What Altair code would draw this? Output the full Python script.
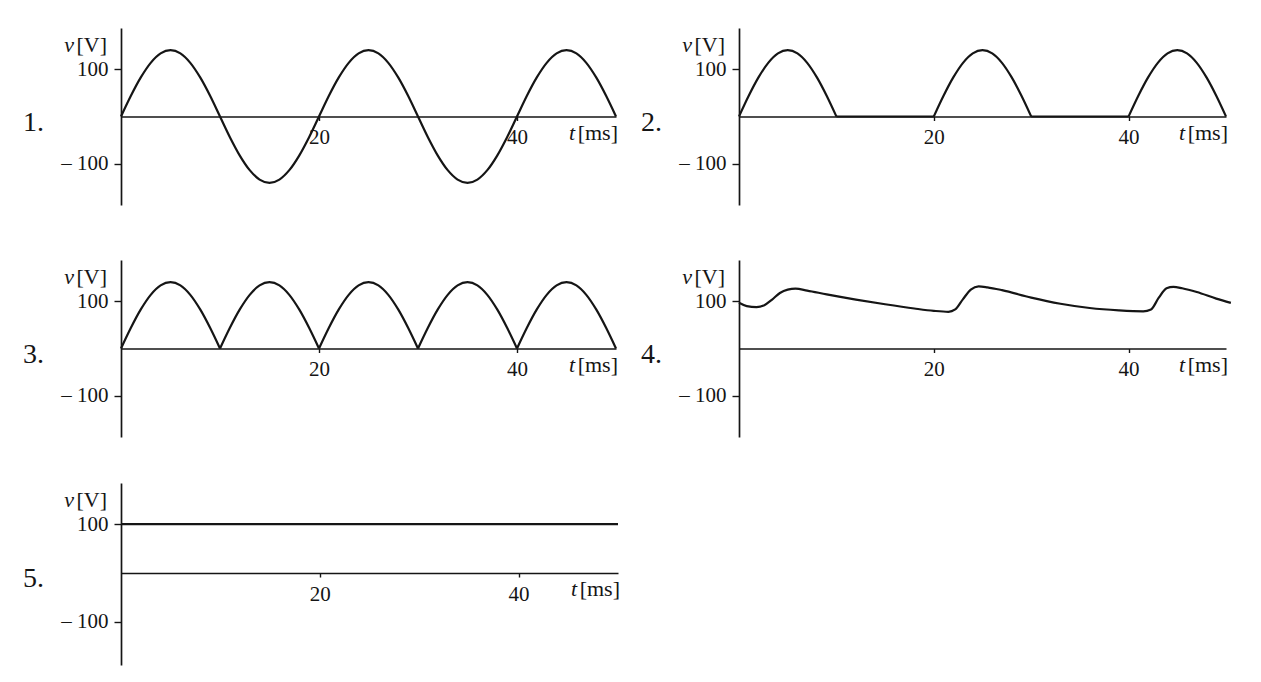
import altair as alt
import pandas as pd

# ---------------- data ----------------
t_ms = [0, 1, 2, 3, 4, 5, 6, 7, 8, 9, 10, 11, 12, 13, 14, 15, 16, 17, 18, 19, 20,
        21, 22, 23, 24, 25, 26, 27, 28, 29, 30, 31, 32, 33, 34, 35, 36, 37, 38, 39, 40,
        41, 42, 43, 44, 45, 46, 47, 48, 49, 50]

# 1. AC source voltage
v_sine = [0, 44, 83, 114, 134, 141, 134, 114, 83, 44, 0, -44, -83, -114, -134, -141, -134, -114, -83, -44, 0,
          44, 83, 114, 134, 141, 134, 114, 83, 44, 0, -44, -83, -114, -134, -141, -134, -114, -83, -44, 0,
          44, 83, 114, 134, 141, 134, 114, 83, 44, 0]
# 2. half-wave rectified
v_half = [0, 44, 83, 114, 134, 141, 134, 114, 83, 44, 0, 0, 0, 0, 0, 0, 0, 0, 0, 0, 0,
          44, 83, 114, 134, 141, 134, 114, 83, 44, 0, 0, 0, 0, 0, 0, 0, 0, 0, 0, 0,
          44, 83, 114, 134, 141, 134, 114, 83, 44, 0]
# 3. full-wave rectified
v_full = [0, 44, 83, 114, 134, 141, 134, 114, 83, 44, 0, 44, 83, 114, 134, 141, 134, 114, 83, 44, 0,
          44, 83, 114, 134, 141, 134, 114, 83, 44, 0, 44, 83, 114, 134, 141, 134, 114, 83, 44, 0,
          44, 83, 114, 134, 141, 134, 114, 83, 44, 0]
# 4. rectified with smoothing (ripple)
t_ripple = [0, 0.8, 1.8, 2.6, 3.4, 4.2, 5.0, 5.8, 7.0, 9.0, 12.0, 15.0, 18.0, 20.0, 21.5,
            22.2, 23.0, 23.8, 24.6, 25.5, 27.0, 30.0, 33.0, 36.0, 39.0, 41.5,
            42.3, 43.1, 43.9, 44.6, 45.5, 47.0, 49.0, 50.5]
v_ripple = [97, 90, 88, 92, 104, 118, 125, 127, 123, 115, 104, 94, 85, 80, 78,
            83, 105, 125, 132, 130, 124, 108, 95, 86, 81, 79,
            83, 108, 128, 131, 128, 120, 106, 97]
# 5. DC
t_dc = [0, 50]
v_dc = [100, 100]

y_ticks = [-100, 100]
x_ticks = [20, 40]
panel_labels = ["1.", "2.", "3.", "4.", "5."]

# ---------------- style ----------------
SERIF = "Liberation Serif"
INK = "#151515"
LEFT_W, RIGHT_W = 495, 487
H, H5 = 177, 182
DOM, DOM5 = [-188, 188], [-188, 184]
LBL, TTL = 21, 22


def segmented(t, v, cuts):
    rows = []
    for k, (a, b) in enumerate(cuts):
        for i in range(a, b + 1):
            rows.append({"t": t[i], "v": v[i], "seg": k})
    return pd.DataFrame(rows)


one = pd.DataFrame({"k": [0]})


def panel(df, label, width, height, ydom):
    zero_from_bottom = height * (0 - ydom[0]) / (ydom[1] - ydom[0])
    x = alt.X("t:Q", scale=alt.Scale(domain=[0, 50], nice=False, zero=False),
              axis=alt.Axis(values=x_ticks, title=None, offset=-zero_from_bottom,
                            tickSize=4, labelPadding=6, labelFont=SERIF, labelFontSize=LBL,
                            labelColor=INK, domainColor=INK, tickColor=INK,
                            domainWidth=1.7, tickWidth=1.4, grid=False, labelFlush=False,
                            format="d"))
    y = alt.Y("v:Q", scale=alt.Scale(domain=ydom, nice=False),
              axis=alt.Axis(values=y_ticks, title=None, tickSize=7, labelPadding=6,
                            labelFont=SERIF, labelFontSize=LBL, labelColor=INK,
                            domainColor=INK, tickColor=INK, domainWidth=1.7, tickWidth=1.4,
                            grid=False,
                            labelExpr="datum.value < 0 ? '\u2013  ' + format(-datum.value, 'd') : format(datum.value, 'd')"))
    curve = alt.Chart(df).mark_line(interpolate="monotone", color=INK, strokeWidth=2.2,
                                    clip=False).encode(x=x, y=y, detail="seg:N")

    vunit = alt.Chart(one).mark_text(align="right", baseline="middle", font=SERIF,
                                     fontSize=TTL, color=INK).encode(
        x=alt.value(-14), y=alt.value(17), text=alt.value("[V]"))
    vsym = alt.Chart(one).mark_text(align="right", baseline="middle", font=SERIF,
                                    fontSize=TTL, fontStyle="italic", color=INK).encode(
        x=alt.value(-47), y=alt.value(17), text=alt.value("v"))
    tunit = alt.Chart(one).mark_text(align="right", baseline="middle", font=SERIF,
                                     fontSize=TTL, color=INK, dy=16).encode(
        x=alt.value(width + 2), y=alt.datum(0), text=alt.value("[ms]"))
    tsym = alt.Chart(one).mark_text(align="right", baseline="middle", font=SERIF,
                                    fontSize=TTL, fontStyle="italic", color=INK, dy=16).encode(
        x=alt.value(width - 41), y=alt.datum(0), text=alt.value("t"))
    num = alt.Chart(one).mark_text(align="right", baseline="middle", font=SERIF,
                                   fontSize=28, color=INK, dy=6).encode(
        x=alt.value(-77), y=alt.datum(0), text=alt.value(label))

    return alt.layer(curve, vunit, vsym, tunit, tsym, num).properties(width=width, height=height)


arch_cuts = [(0, 10), (10, 20), (20, 30), (30, 40), (40, 50)]

df1 = segmented(t_ms, v_sine, [(0, 50)])
df2 = segmented(t_ms, v_half, arch_cuts)
df3 = segmented(t_ms, v_full, arch_cuts)
df4 = pd.DataFrame({"t": t_ripple, "v": v_ripple, "seg": 0})
df5 = pd.DataFrame({"t": t_dc, "v": v_dc, "seg": 0})

p1 = panel(df1, panel_labels[0], LEFT_W, H, DOM)
p2 = panel(df2, panel_labels[1], RIGHT_W, H, DOM)
p3 = panel(df3, panel_labels[2], LEFT_W, H, DOM)
p4 = panel(df4, panel_labels[3], RIGHT_W, H, DOM)
p5 = panel(df5, panel_labels[4], LEFT_W + 2, H5, DOM5)

row1 = alt.hconcat(p1, p2, spacing=123, bounds="flush")
row2 = alt.hconcat(p3, p4, spacing=123, bounds="flush")
top = alt.vconcat(row1, row2, spacing=55)

chart = alt.vconcat(top, p5, spacing=46).properties(
    padding={"left": 15, "top": 20, "right": 5, "bottom": 5},
    background="white",
).configure_view(strokeWidth=0).configure_axis(grid=False)

chart.save("out.html", embed_options={"renderer": "svg", "actions": False})
